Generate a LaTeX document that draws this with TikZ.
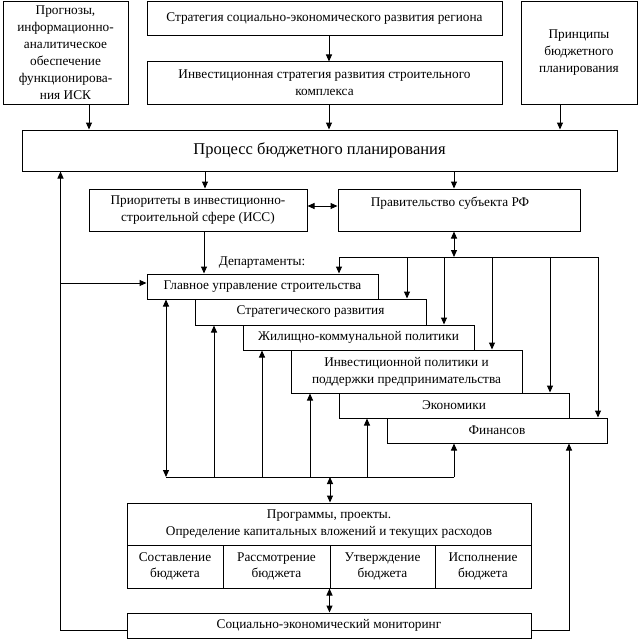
\documentclass[tikz,border=0pt]{standalone}
\usepackage{fontspec}
\setmainfont{Liberation Serif}
\usetikzlibrary{arrows.meta,calc,positioning}
\tikzset{
  box/.style={draw,line width=1pt,inner sep=0pt,align=center,font=\fontsize{13.3}{17}\selectfont},
  wire/.style={line width=1pt},
  arr/.style={wire,-{Triangle[length=7pt,width=6pt]}},
  darr/.style={wire,{Triangle[length=7pt,width=6pt]}-{Triangle[length=7pt,width=6pt]}},
}
\begin{document}
\begin{tikzpicture}[x=1pt,y=-1pt]
 \useasboundingbox (0,0) rectangle (639,642);
 % top row
 \node[box,minimum width=125pt,minimum height=102pt] (prog) at (65.5,53) {Прогнозы,\\информационно-\\аналитическое\\обеспечение\\функционирова-\\ния ИСК};
 \node[box,minimum width=355pt,minimum height=34pt] (strat) at (324.5,19) {Стратегия социально-экономического развития региона};
 \node[box,minimum width=355pt,minimum height=42pt] (inv) at (324.5,83) {Инвестиционная стратегия развития строительного\\комплекса};
 \node[box,minimum width=116pt,minimum height=102pt] (princ) at (579,53) {Принципы\\бюджетного\\планирования};
 \node[box,minimum width=595pt,minimum height=41pt,font=\fontsize{16.5}{20}\selectfont] (proc) at (319.5,150.5) {Процесс бюджетного планирования};
 \node[box,minimum width=218pt,minimum height=42pt] (prior) at (198,210) {Приоритеты в инвестиционно-\\строительной сфере (ИСС)};
 \node[box,minimum width=242pt,minimum height=42pt] (gov) at (459,210) {Правительство субъекта РФ\hspace*{18pt}\\~};
 % departments
 \node[font=\fontsize{13.3}{17}\selectfont] (deplbl) at (262,263) {Департаменты:};
 \node[box,minimum width=231pt,minimum height=25pt] (glav) at (262.5,286.5) {Главное управление строительства};
 \node[box,minimum width=231pt,minimum height=26pt] (strd) at (310.5,312) {Стратегического развития};
 \node[box,minimum width=231pt,minimum height=25pt] (zhkh) at (358.5,337.5) {Жилищно-коммунальной политики};
 \node[box,minimum width=231pt,minimum height=43pt] (invp) at (406.5,371.5) {Инвестиционной политики и\\поддержки предпринимательства};
 \node[box,minimum width=230pt,minimum height=25pt] (econ) at (454,405.5) {Экономики};
 \node[box,minimum width=220pt,minimum height=25pt] (fin) at (497,430.5) {Финансов};
 % programmes and budget stages
 \node[box,minimum width=404pt,minimum height=42pt] (prgm) at (329,524) {Программы, проекты.\\Определение капитальных вложений и текущих расходов};
 \node[box,minimum width=96pt,minimum height=43pt,font=\fontsize{13.3}{16}\selectfont] (c1) at (175,566.5) {Составление\\бюджета};
 \node[box,minimum width=107pt,minimum height=43pt,font=\fontsize{13.3}{16}\selectfont] (c2) at (276.5,566.5) {Рассмотрение\\бюджета};
 \node[box,minimum width=105pt,minimum height=43pt,font=\fontsize{13.3}{16}\selectfont] (c3) at (382.5,566.5) {Утверждение\\бюджета};
 \node[box,minimum width=96pt,minimum height=43pt,font=\fontsize{13.3}{16}\selectfont] (c4) at (483,566.5) {Исполнение\\бюджета};
 \node[box,minimum width=404pt,minimum height=25pt] (mon) at (329,625.5) {Социально-экономический мониторинг};

 % arrows of the upper part
 \draw[arr] ($(prog.south)+(23.5,0)$) coordinate (t) -- (t |- proc.north);
 \draw[arr] ($(strat.south)+(4.5,0)$) coordinate (t) -- (t |- inv.north);
 \draw[arr] ($(inv.south)+(4.5,0)$) coordinate (t) -- (t |- proc.north);
 \draw[arr] ($(princ.south)+(-19,0)$) coordinate (t) -- (t |- proc.north);
 \draw[arr] ($(prior.north)+(7,0)$) coordinate (t) (t |- proc.south) -- (t);
 \draw[arr] ($(gov.north)+(-5,0)$) coordinate (t) (t |- proc.south) -- (t);
 \draw[darr] ($(prior.east)+(0,-4)$) coordinate (t) -- (t -| gov.west);
 \draw[arr] ($(prior.south)+(6,0)$) coordinate (t) -- (t |- glav.north);

 % distribution to the departments
 \coordinate (dist) at (339,257);
 \draw[darr] ($(gov.south)+(-5,0)$) coordinate (t) -- (t |- dist);
 \draw[wire] (dist) -- ++(259,0);
 \foreach \n/\dx in {glav/0,strd/68,zhkh/105,invp/153,econ/211,fin/259}
  \draw[arr] ($(dist)+(\dx,0)$) coordinate (t) -- (t |- \n.north);

 % collecting bus under the departments
 \coordinate (bus) at (166,477);
 \draw[wire] (bus) -- ++(288,0);
 \draw[darr] (bus) -- (bus |- glav.south);
 \foreach \n/\dx in {strd/48,zhkh/96,invp/144,econ/201,fin/288}
  \draw[arr] ($(bus)+(\dx,0)$) coordinate (t) -- (t |- \n.south);
 \draw[darr] ($(bus)+(164,0)$) coordinate (t) -- (t |- prgm.north);
 \draw[darr] (c3.south west) -- (c3.south west |- mon.north);

 % feedback from monitoring
 \coordinate (fb) at ($(proc.south west)+(39,0)$);
 \draw[arr] ($(mon.west)+(0,4.5)$) -| (fb);
 \coordinate (g) at ($(glav.west)+(0,-3.5)$);
 \draw[arr] (fb |- g) -- (g);
 \draw[arr] ($(mon.east)+(0,5)$) -| ($(fin.south)+(72,0)$);
\end{tikzpicture}
\end{document}
